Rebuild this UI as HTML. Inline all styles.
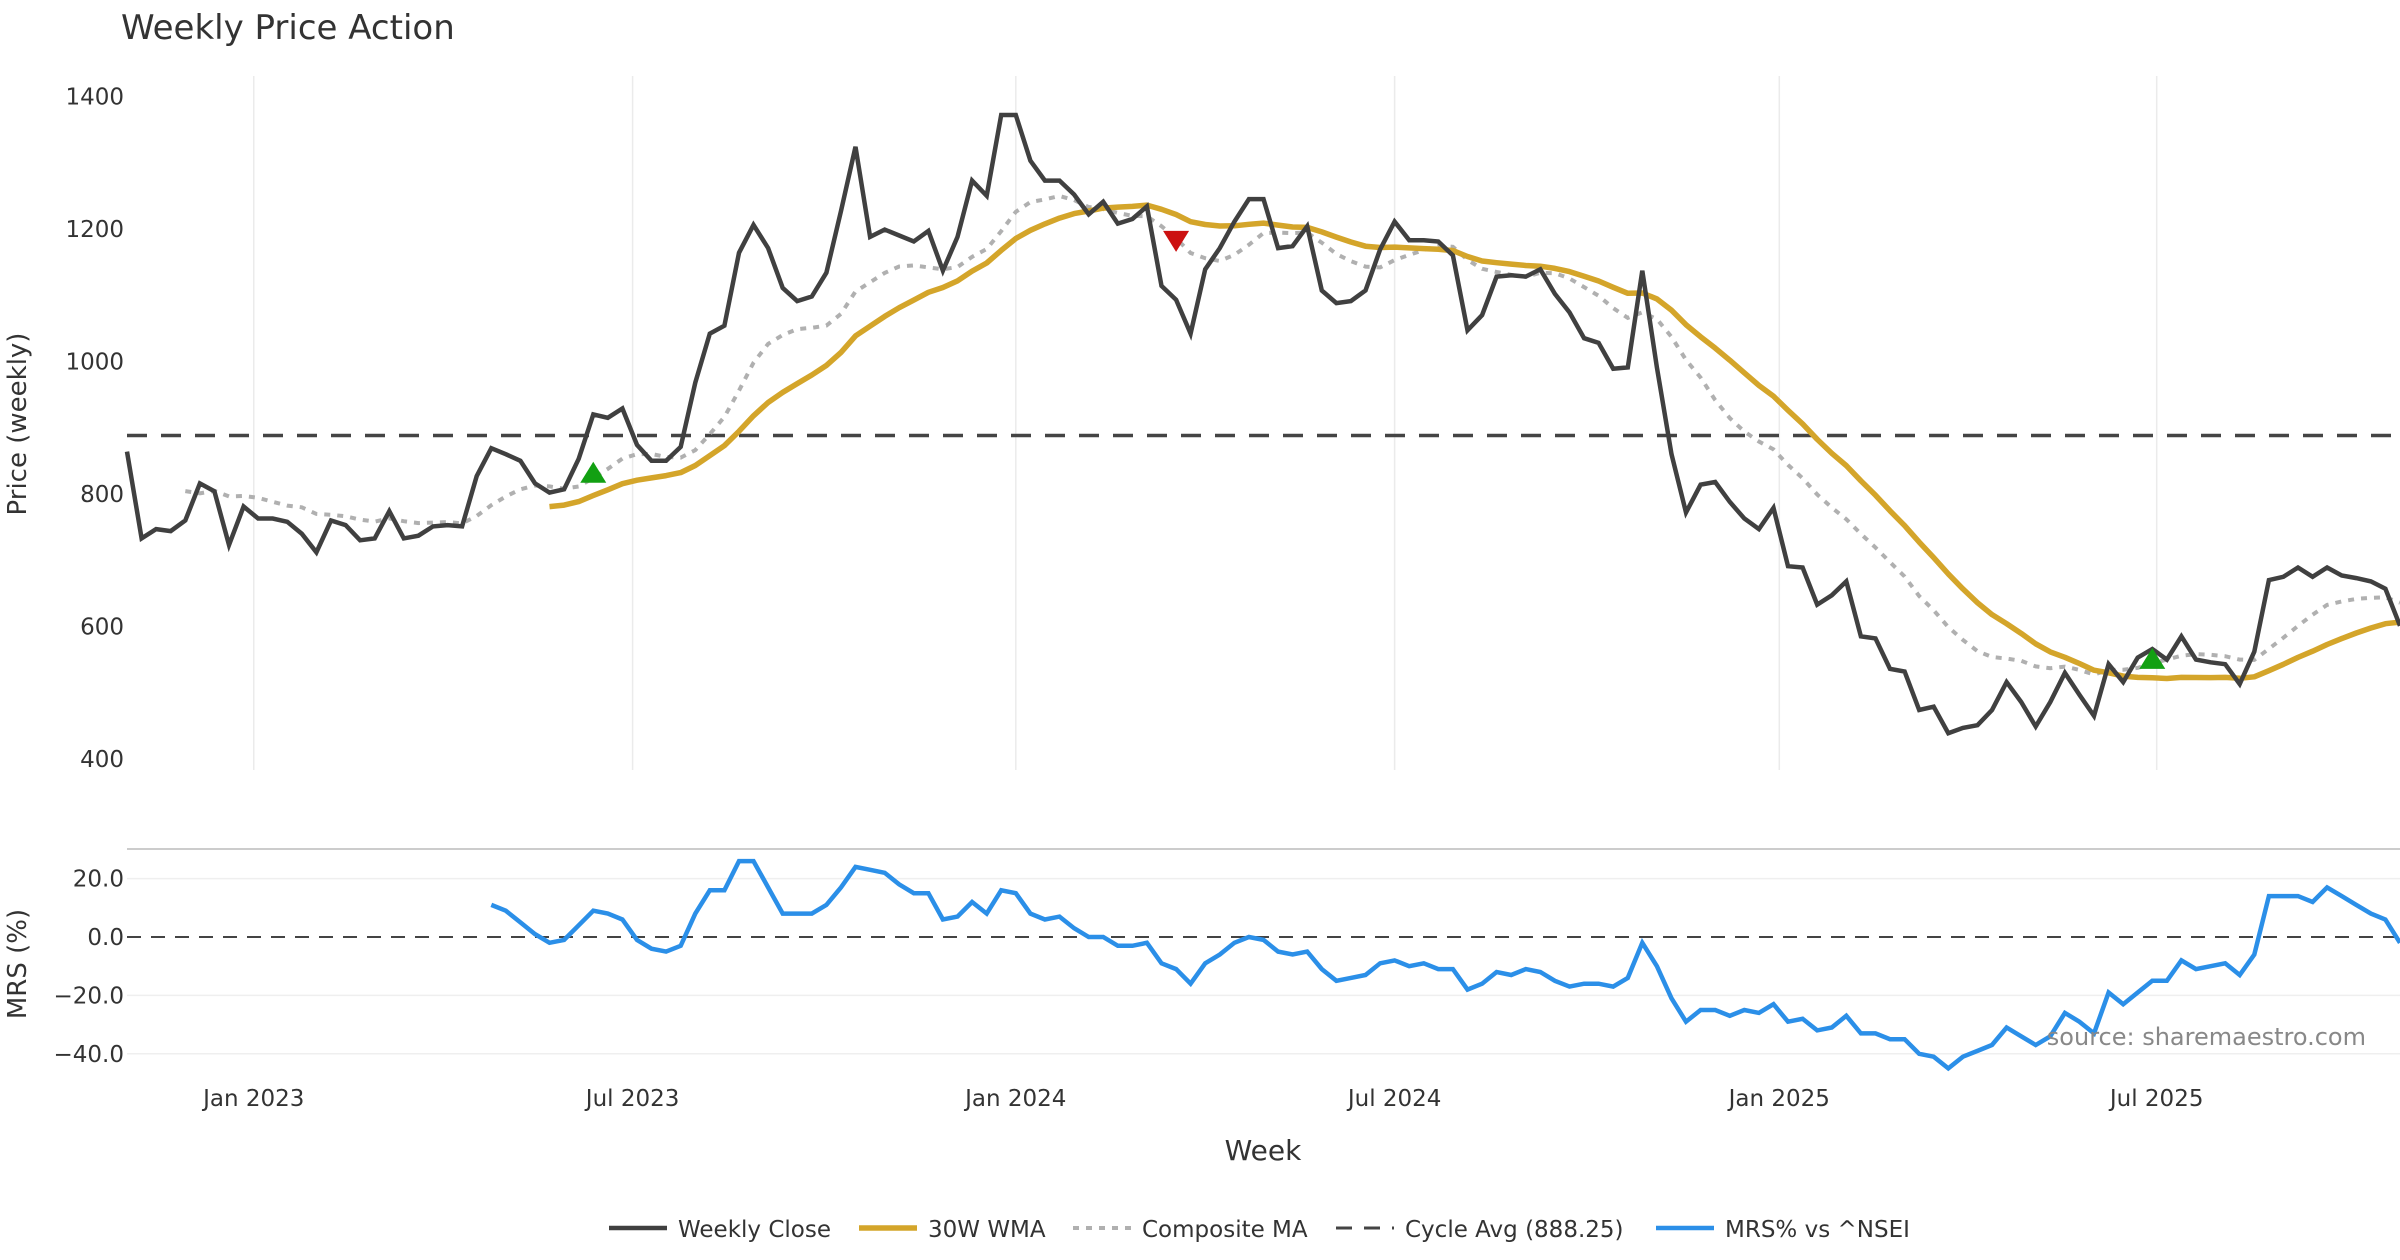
<!DOCTYPE html>
<html><head><meta charset="utf-8"><style>
html,body{margin:0;padding:0;background:#fff;}
svg{display:block;font-family:"DejaVu Sans","Liberation Sans",sans-serif;}
</style></head><body>
<svg id="chart" width="2400" height="1260" viewBox="0 0 2400 1260" xmlns="http://www.w3.org/2000/svg">
<text x="121" y="39" font-size="34" fill="#333">Weekly Price Action</text>
<g id="grid"></g>
<g id="axes"></g>
<g id="series"></g>
<text transform="translate(26,424) rotate(-90)" text-anchor="middle" font-size="26" fill="#333">Price (weekly)</text>
<text transform="translate(26,964) rotate(-90)" text-anchor="middle" font-size="26" fill="#333">MRS (%)</text>
<text x="1263" y="1160" text-anchor="middle" font-size="28" fill="#333">Week</text>
<text x="2366" y="1045" text-anchor="end" font-size="24" fill="#888">source: sharemaestro.com</text>
<g id="legend"></g>
</svg>
<script>
const closes=[864,733,747,744,760,816,804,723,781,763,763,758,740,712,760,753,730,733,774,733,737,751,753,751,827,869,860,850,816,802,807,853,920,915,929,874,850,850,871,968,1042,1054,1164,1206,1171,1111,1091,1098,1134,1227,1324,1188,1199,1190,1181,1197,1137,1188,1273,1250,1372,1372,1303,1273,1273,1252,1222,1241,1208,1215,1234,1114,1093,1042,1139,1171,1211,1245,1245,1171,1174,1204,1107,1088,1091,1107,1169,1211,1183,1183,1181,1160,1047,1070,1128,1130,1128,1139,1102,1074,1035,1028,989,991,1137,991,860,772,814,818,788,763,747,779,691,689,633,647,668,585,582,536,532,474,479,439,447,451,474,516,486,449,486,530,497,465,543,516,553,566,550,585,550,546,543,513,562,670,675,689,675,689,677,673,668,657,601];
const mrs=[11,9,5,1,-2,-1,4,9,8,6,-1,-4,-5,-3,8,16,16,26,26,17,8,8,8,11,17,24,23,22,18,15,15,6,7,12,8,16,15,8,6,7,3,0,0,-3,-3,-2,-9,-11,-16,-9,-6,-2,0,-1,-5,-6,-5,-11,-15,-14,-13,-9,-8,-10,-9,-11,-11,-18,-16,-12,-13,-11,-12,-15,-17,-16,-16,-17,-14,-2,-10,-21,-29,-25,-25,-27,-25,-26,-23,-29,-28,-32,-31,-27,-33,-33,-35,-35,-40,-41,-45,-41,-39,-37,-31,-34,-37,-34,-26,-29,-33,-19,-23,-19,-15,-15,-8,-11,-10,-9,-13,-6,14,14,14,12,17,14,11,8,6,-2];
const cycleAvg=888.25;
const buyIdx=[32,139];
const buyVal=[829,548];
const sellIdx=[72];
const sellVal=[1185];
const priceTicks=[400,600,800,1000,1200,1400];
const mrsTicks=[20,0,-20,-40];
const mrsTickLabels=["20.0","0.0","\u221220.0","\u221240.0"];
const monthLabels=["Jan 2023","Jul 2023","Jan 2024","Jul 2024","Jan 2025","Jul 2025"];
const monthIdx=[8.7,34.7,61,87,113.4,139.3];

const NS="http://www.w3.org/2000/svg";
const X0=127,X1=2400;
const n=closes.length;
const step=(X1-X0)/(n-1);
const xs=i=>X0+i*step;
const yp=v=>759-(v-400)*(759-96.4)/1000;
const ym=v=>937-v*2.92;
function mk(tag,attrs,parent){const e=document.createElementNS(NS,tag);for(const k in attrs)e.setAttribute(k,attrs[k]);parent.appendChild(e);return e;}
const grid=document.getElementById('grid'),axes=document.getElementById('axes'),ser=document.getElementById('series'),leg=document.getElementById('legend');

function wma(p){const o=[];for(let i=0;i<n;i++){if(i<p-1){o.push(null);continue;}let s=0,w=0;for(let k=0;k<p;k++){s+=closes[i-k]*(p-k);w+=p-k;}o.push(s/w);}return o;}
function ema(p){const o=[];let e=closes[0];const a=2/(p+1);for(let i=0;i<n;i++){e=i?a*closes[i]+(1-a)*e:closes[0];o.push(e);}return o;}
function sma(p){const o=[];for(let i=0;i<n;i++){if(i<p-1){o.push(null);continue;}let s=0;for(let k=0;k<p;k++)s+=closes[i-k];o.push(s/p);}return o;}
const wma30=wma(30);
const e13=ema(13),e26=ema(26),s5=sma(5);
const composite=closes.map((c,i)=>s5[i]===null?null:(s5[i]+e13[i]+e26[i])/3);

monthIdx.forEach((m,k)=>{
  const x=xs(m);
  const g=mk('line',{x1:x,x2:x,y1:76,y2:770,stroke:'#ebebeb','stroke-width':1.5},grid);
  
  
  const t=mk('text',{x:x,y:1106,'text-anchor':'middle','font-size':23,fill:'#333'},axes);
  t.textContent=monthLabels[k];
  
  
});
priceTicks.forEach(v=>{
  const t=mk('text',{x:124,y:yp(v)+8,'text-anchor':'end','font-size':23,fill:'#333'},axes);
  t.textContent=v;
  
  
});
mrsTicks.forEach((v,k)=>{
  if(v!==0){const g=mk('line',{x1:X0,x2:X1,y1:ym(v),y2:ym(v),stroke:'#efefef','stroke-width':1.5},grid);
  
  }
  const t=mk('text',{x:124,y:ym(v)+8,'text-anchor':'end','font-size':23,fill:'#333'},axes);
  t.textContent=mrsTickLabels[k];
  
  
});
const sep=mk('line',{x1:X0,x2:X1,y1:849,y2:849,stroke:'#cccccc','stroke-width':2},axes);


const z=mk('line',{x1:X0,x2:X1,y1:ym(0),y2:ym(0),stroke:'#444','stroke-width':2,'stroke-dasharray':'14,10'},ser);


const ca=mk('line',{x1:X0,x2:X1,y1:yp(cycleAvg),y2:yp(cycleAvg),stroke:'#444','stroke-width':3.5,'stroke-dasharray':'20,14'},ser);



function path(vals,yf,offset){let d='';let started=false;vals.forEach((v,i)=>{if(v===null)return;const x=xs(i+offset),y=yf(v);d+=(started?'L':'M')+x.toFixed(1)+','+y.toFixed(1);started=true;});return d;}
const p1=mk('path',{d:path(composite,yp,0),fill:'none',stroke:'#b0b0b0','stroke-width':4,'stroke-dasharray':'6,7'},ser);


const p2=mk('path',{d:path(wma30,yp,0),fill:'none',stroke:'#d4a52a','stroke-width':5.5,'stroke-linejoin':'round'},ser);


const p3=mk('path',{d:path(closes,yp,0),fill:'none',stroke:'#404040','stroke-width':4.5,'stroke-linejoin':'miter'},ser);


const p4=mk('path',{d:path(mrs,ym,n-mrs.length),fill:'none',stroke:'#2b8fe8','stroke-width':4.5},ser);


buyIdx.forEach((ix,k)=>{const x=xs(ix),y=yp(buyVal[k]);
  const t=mk('polygon',{points:`${x-13},${y+8} ${x+13},${y+8} ${x},${y-13}`,fill:'#12a012'},ser);
  
  });
sellIdx.forEach((ix,k)=>{const x=xs(ix),y=yp(sellVal[k]);
  const t=mk('polygon',{points:`${x-13},${y-8} ${x+13},${y-8} ${x},${y+13}`,fill:'#cc1111'},ser);
  
  });

const legItems=[
 {x:609,label:'Weekly Close',stroke:'#404040',dash:'',w:4.5},
 {x:859,label:'30W WMA',stroke:'#d4a52a',dash:'',w:5.5},
 {x:1073,label:'Composite MA',stroke:'#b0b0b0',dash:'6,7',w:4},
 {x:1336,label:'Cycle Avg (888.25)',stroke:'#444',dash:'16,12',w:3},
 {x:1656,label:'MRS% vs ^NSEI',stroke:'#2b8fe8',dash:'',w:4.5}];
legItems.forEach(it=>{
  const g=mk('g',{},leg);
  
  
  mk('line',{x1:it.x,x2:it.x+58,y1:1228,y2:1228,stroke:it.stroke,'stroke-width':it.w,'stroke-dasharray':it.dash},g);
  const t=mk('text',{x:it.x+69,y:1237,'font-size':23,fill:'#333'},g);
  t.textContent=it.label;
});
</script>
</body></html>
